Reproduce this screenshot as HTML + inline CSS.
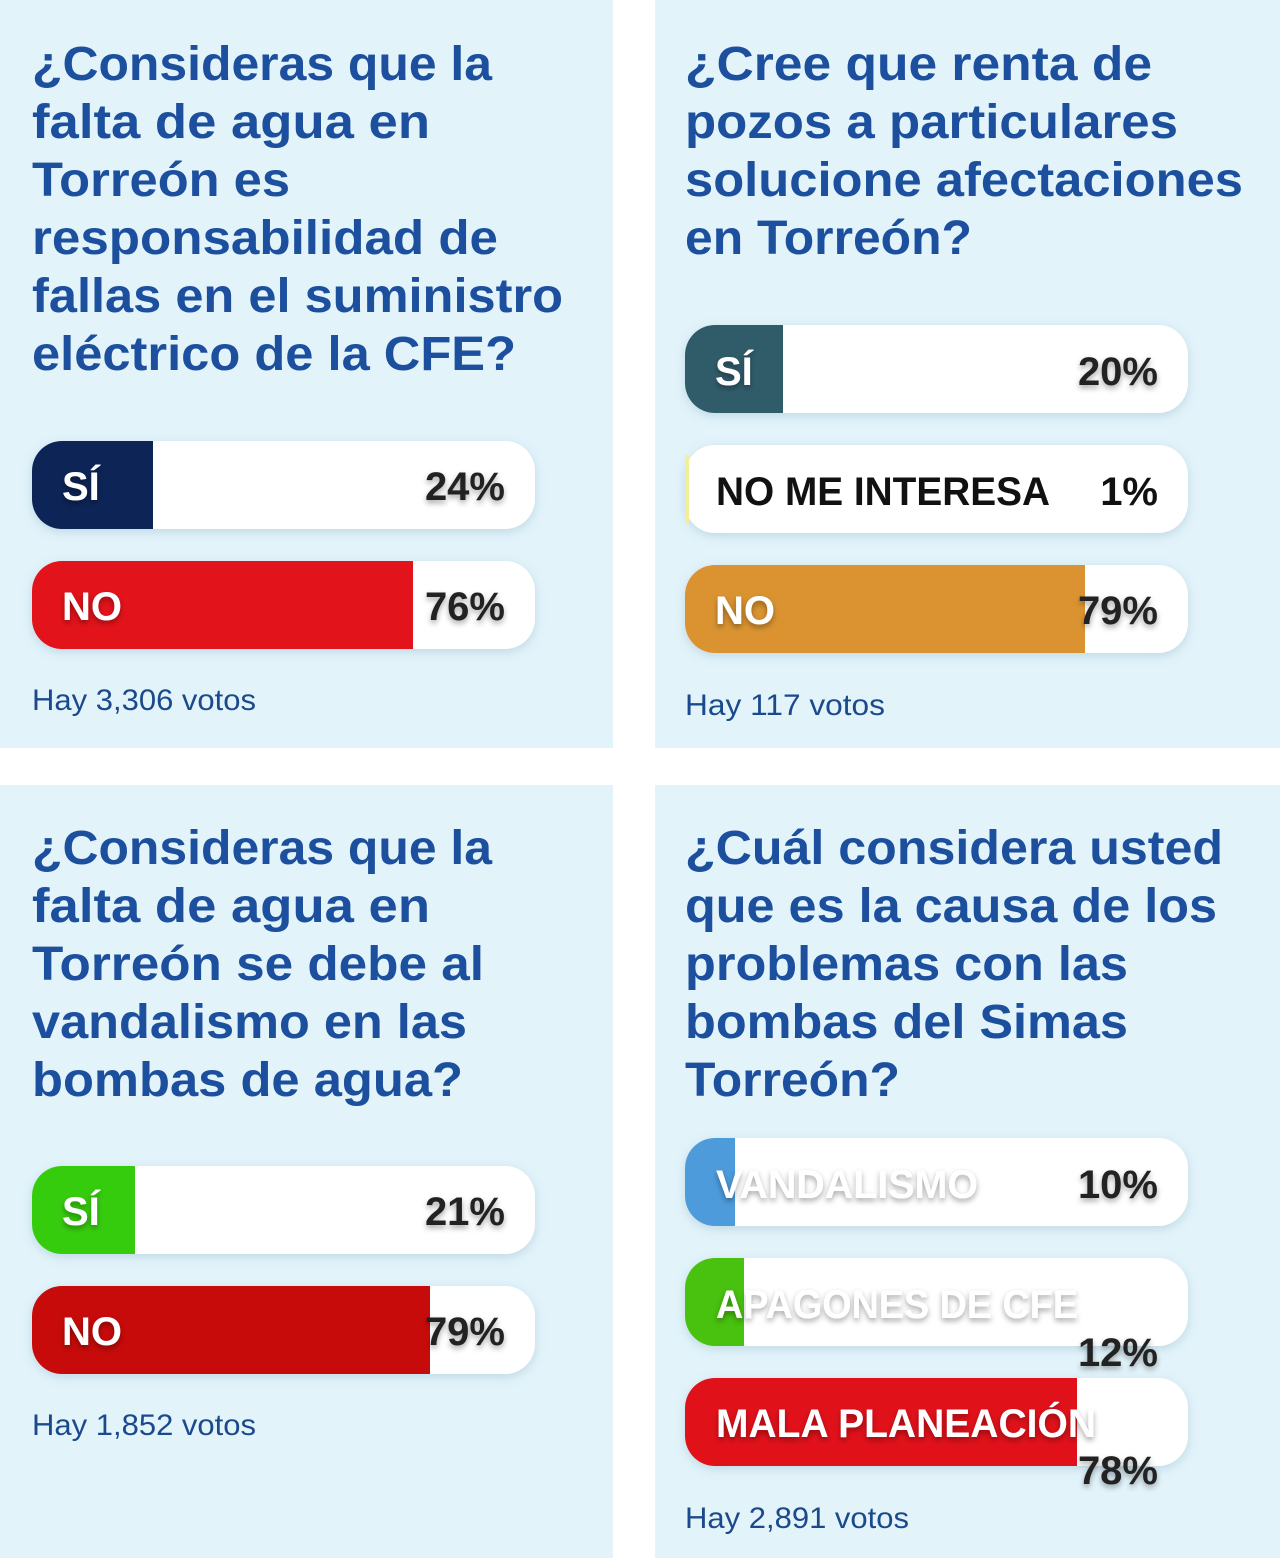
<!DOCTYPE html>
<html><head><meta charset="utf-8"><style>html,body{margin:0;padding:0;background:#fff}svg{display:block}</style></head>
<body>
<svg width="1280" height="1558" viewBox="0 0 1280 1558" xmlns="http://www.w3.org/2000/svg" font-family="Liberation Sans, DejaVu Sans, sans-serif">
<defs>
<filter id="sh" x="-10%" y="-30%" width="120%" height="160%"><feDropShadow dx="0" dy="3" stdDeviation="3" flood-color="#000" flood-opacity="0.35"/></filter>
<filter id="bs" x="-5%" y="-20%" width="110%" height="150%"><feDropShadow dx="0" dy="3" stdDeviation="5" flood-color="#7fa9bd" flood-opacity="0.35"/></filter>
</defs>
<rect width="1280" height="1558" fill="#fff"/>
<rect x="0" y="0" width="613" height="748" fill="#e2f3fa"/>
<rect x="655" y="0" width="625" height="748" fill="#e2f3fa"/>
<rect x="0" y="785" width="613" height="773" fill="#e2f3fa"/>
<rect x="655" y="785" width="625" height="773" fill="#e2f3fa"/>

<g fill="#1c4f9d" font-weight="bold" font-size="48">
<text x="32" y="80" textLength="460" lengthAdjust="spacingAndGlyphs">¿Consideras que la</text>
<text x="32" y="138" textLength="398" lengthAdjust="spacingAndGlyphs">falta de agua en</text>
<text x="32" y="196" textLength="258" lengthAdjust="spacingAndGlyphs">Torreón es</text>
<text x="32" y="254" textLength="466" lengthAdjust="spacingAndGlyphs">responsabilidad de</text>
<text x="32" y="312" textLength="531" lengthAdjust="spacingAndGlyphs">fallas en el suministro</text>
<text x="32" y="370" textLength="484" lengthAdjust="spacingAndGlyphs">eléctrico de la CFE?</text>

<text x="685" y="80" textLength="467" lengthAdjust="spacingAndGlyphs">¿Cree que renta de</text>
<text x="685" y="138" textLength="493" lengthAdjust="spacingAndGlyphs">pozos a particulares</text>
<text x="685" y="196" textLength="558" lengthAdjust="spacingAndGlyphs">solucione afectaciones</text>
<text x="685" y="254" textLength="287" lengthAdjust="spacingAndGlyphs">en Torreón?</text>

<text x="32" y="864" textLength="460" lengthAdjust="spacingAndGlyphs">¿Consideras que la</text>
<text x="32" y="922" textLength="398" lengthAdjust="spacingAndGlyphs">falta de agua en</text>
<text x="32" y="980" textLength="452" lengthAdjust="spacingAndGlyphs">Torreón se debe al</text>
<text x="32" y="1038" textLength="435" lengthAdjust="spacingAndGlyphs">vandalismo en las</text>
<text x="32" y="1096" textLength="431" lengthAdjust="spacingAndGlyphs">bombas de agua?</text>

<text x="685" y="864" textLength="538" lengthAdjust="spacingAndGlyphs">¿Cuál considera usted</text>
<text x="685" y="922" textLength="532" lengthAdjust="spacingAndGlyphs">que es la causa de los</text>
<text x="685" y="980" textLength="443" lengthAdjust="spacingAndGlyphs">problemas con las</text>
<text x="685" y="1038" textLength="443" lengthAdjust="spacingAndGlyphs">bombas del Simas</text>
<text x="685" y="1096" textLength="215" lengthAdjust="spacingAndGlyphs">Torreón?</text>
</g>

<g fill="#fff" filter="url(#bs)">
<rect x="32" y="441" width="503" height="88" rx="30"/>
<rect x="32" y="561" width="503" height="88" rx="30"/>
<rect x="685" y="325" width="503" height="88" rx="30"/>
<rect x="685" y="445" width="503" height="88" rx="30"/>
<rect x="685" y="565" width="503" height="88" rx="30"/>
<rect x="32" y="1166" width="503" height="88" rx="30"/>
<rect x="32" y="1286" width="503" height="88" rx="30"/>
<rect x="685" y="1138" width="503" height="88" rx="30"/>
<rect x="685" y="1258" width="503" height="88" rx="30"/>
<rect x="685" y="1378" width="503" height="88" rx="30"/>
</g>
<path fill="#0d2456" d="M62,441 H153 V529 H62 A30 30 0 0 1 32,499 V471 A30 30 0 0 1 62,441 Z"/>
<path fill="#e3131b" d="M62,561 H413 V649 H62 A30 30 0 0 1 32,619 V591 A30 30 0 0 1 62,561 Z"/>
<path fill="#305c69" d="M715,325 H783 V413 H715 A30 30 0 0 1 685,383 V355 A30 30 0 0 1 715,325 Z"/>
<rect x="685" y="455" width="4" height="68" fill="#f2ee9a"/>
<path fill="#da9330" d="M715,565 H1085 V653 H715 A30 30 0 0 1 685,623 V595 A30 30 0 0 1 715,565 Z"/>
<path fill="#36cc0e" d="M62,1166 H135 V1254 H62 A30 30 0 0 1 32,1224 V1196 A30 30 0 0 1 62,1166 Z"/>
<path fill="#c70a0a" d="M62,1286 H430 V1374 H62 A30 30 0 0 1 32,1344 V1316 A30 30 0 0 1 62,1286 Z"/>
<path fill="#4d9bdb" d="M715,1138 H735 V1226 H715 A30 30 0 0 1 685,1196 V1168 A30 30 0 0 1 715,1138 Z"/>
<path fill="#48c10f" d="M715,1258 H744 V1346 H715 A30 30 0 0 1 685,1316 V1288 A30 30 0 0 1 715,1258 Z"/>
<path fill="#e1111a" d="M715,1378 H1077 V1466 H715 A30 30 0 0 1 685,1436 V1408 A30 30 0 0 1 715,1378 Z"/>

<g font-weight="bold" font-size="40" filter="url(#sh)">
<g fill="#fff">
<text x="62" y="500">SÍ</text>
<text x="62" y="620">NO</text>
<text x="715" y="385">SÍ</text>
<text x="715" y="624">NO</text>
<text x="62" y="1225">SÍ</text>
<text x="62" y="1345">NO</text>
<text x="716" y="1198" textLength="262" lengthAdjust="spacingAndGlyphs">VANDALISMO</text>
<text x="716" y="1318" textLength="362" lengthAdjust="spacingAndGlyphs">APAGONES DE CFE</text>
<text x="716" y="1437" textLength="380" lengthAdjust="spacingAndGlyphs">MALA PLANEACIÓN</text>
</g>
<g fill="#222" text-anchor="end">
<text x="505" y="500">24%</text>
<text x="505" y="620">76%</text>
<text x="1158" y="385">20%</text>
<text x="1158" y="624">79%</text>
<text x="505" y="1225">21%</text>
<text x="505" y="1345">79%</text>
<text x="1158" y="1198">10%</text>
<text x="1158" y="1366">12%</text>
<text x="1158" y="1484">78%</text>
</g>
</g>
<text x="716" y="505" font-weight="bold" font-size="40" fill="#111" textLength="334" lengthAdjust="spacingAndGlyphs">NO ME INTERESA</text>
<text x="1158" y="505" font-weight="bold" font-size="40" fill="#111" text-anchor="end">1%</text>

<g fill="#1b4a8c" font-size="30">
<text x="32" y="710" textLength="224" lengthAdjust="spacingAndGlyphs">Hay 3,306 votos</text>
<text x="685" y="715" textLength="200" lengthAdjust="spacingAndGlyphs">Hay 117 votos</text>
<text x="32" y="1435" textLength="224" lengthAdjust="spacingAndGlyphs">Hay 1,852 votos</text>
<text x="685" y="1528" textLength="224" lengthAdjust="spacingAndGlyphs">Hay 2,891 votos</text>
</g>
</svg>
</body></html>
